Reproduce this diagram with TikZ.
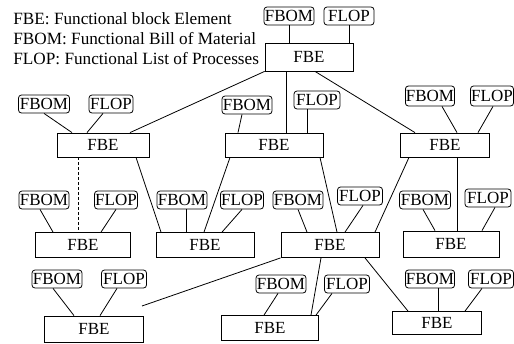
\documentclass[tikz,border=0pt]{standalone}
\usepackage{fontspec}
\setmainfont{Liberation Serif}
\newcommand\myfsz{\fontsize{17}{20.5}\selectfont}
\newcommand\mylegsz{\fontsize{17.2}{20.5}\selectfont}
\begin{document}
\begin{tikzpicture}[x=1pt,y=-1pt,line width=0.8pt,
  fbe/.style={draw, rectangle, minimum height=25pt, inner sep=0pt, font=\myfsz},
  tag/.style={draw, rectangle, rounded corners=3pt, minimum height=18pt, inner sep=0.5pt, font=\myfsz},
  bom/.style={tag, minimum width=50pt},
  lop/.style={tag, minimum width=45pt},
  leg/.style={anchor=base west, inner sep=0pt, font=\mylegsz},
  link/.style={draw, line width=0.8pt}]
\useasboundingbox (0,0) rectangle (514,343);

% legend
\node[leg] (leg1) at (13,24) {FBE: Functional block Element};
\node[leg] (leg2) at (13,44) {FBOM: Functional Bill of Material};
\node[leg] (leg3) at (13,64) {FLOP: Functional List of Processes};

% top
\node[fbe, minimum width=88pt, minimum height=28pt] (T) at (309,57) {FBE};
\node[bom] (Tb) at (289,16) {FBOM};
\node[lop, minimum width=50pt] (Tl) at (349,16) {FLOP};

% row 2
\node[fbe, minimum width=92pt, minimum height=24pt] (L) at (103,145) {FBE};
\node[bom, minimum width=51pt] (Lb) at (44,104) {FBOM};
\node[lop, minimum width=44pt] (Ll) at (111,104) {FLOP};

\node[fbe, minimum width=98pt, minimum height=24pt] (M) at (274,145) {FBE};
\node[bom] (Mb) at (247,105) {FBOM};
\node[lop, minimum width=46pt] (Ml) at (317,100) {FLOP};

\node[fbe, minimum width=89pt, minimum height=24pt] (R) at (445,145) {FBE};
\node[bom, minimum width=48pt, minimum height=20pt] (Rb) at (430,96) {FBOM};
\node[lop, minimum width=43pt, minimum height=20pt] (Rl) at (492,96) {FLOP};

% row 3
\node[fbe, minimum width=95pt] (A) at (83,245) {FBE};
\node[bom] (Ab) at (44,200) {FBOM};
\node[lop, minimum width=43pt] (Al) at (116,200) {FLOP};

\node[fbe, minimum width=98pt] (B) at (205,245) {FBE};
\node[bom] (Bb) at (182,200) {FBOM};
\node[lop, minimum width=43pt] (Bl) at (242,200) {FLOP};

\node[fbe, minimum width=98pt] (C) at (330,245) {FBE};
\node[bom] (Cb) at (298,200) {FBOM};
\node[lop] (Cl) at (360,196) {FLOP};

\node[fbe, minimum width=96pt, minimum height=26pt] (D) at (451,244) {FBE};
\node[bom, minimum width=51pt] (Db) at (425,200) {FBOM};
\node[lop, minimum width=46pt] (Dl) at (488,198) {FLOP};

% row 4
\node[fbe, minimum width=99pt, minimum height=26pt] (E) at (94,329) {FBE};
\node[bom] (Eb) at (57,279) {FBOM};
\node[lop] (El) at (124,279) {FLOP};
\coordinate (Eend) at (142,306);

\node[fbe, minimum width=97pt] (F) at (270,328) {FBE};
\node[bom] (Fb) at (281,284) {FBOM};
\node[lop] (Fl) at (347,284) {FLOP};

\node[fbe, minimum width=89pt, minimum height=23pt] (G) at (437,323) {FBE};
\node[bom, minimum width=49pt] (Gb) at (430,279) {FBOM};
\node[lop] (Gl) at (491,279) {FLOP};

% connectors: top
\draw[link] (Tb.south) -- ([xshift=-20pt]T.north);
\draw[link] (Tl.south) -- ([xshift=40pt]T.north);
\draw[link] (T.south west) -- ([xshift=27pt]L.north);
\draw[link] ([xshift=-23pt]T.south) -- ([xshift=12pt]M.north);
\draw[link] ([xshift=6pt]T.south) -- ([xshift=-30pt]R.north);

% row 2 tags
\draw[link] (Lb.south) -- ([xshift=-31pt]L.north);
\draw[link] ([xshift=-8pt]Ll.south) -- ([xshift=-16pt]L.north);
\draw[link] ([xshift=-5pt]Mb.south) -- ([xshift=-36pt]M.north);
\draw[link] ([xshift=-10pt]Ml.south) -- ([xshift=33pt]M.north);
\draw[link] ([xshift=12pt]Rb.south) -- ([xshift=12pt]R.north);
\draw[link] ([xshift=1pt]Rl.south) -- ([xshift=33pt]R.north);

% row 2 -> row 3
\draw[link, densely dashed] ([xshift=-25pt]L.south) -- ([xshift=-5pt]A.north);
\draw[link] ([xshift=33pt]L.south) -- ([xshift=-44pt]B.north);
\draw[link] ([xshift=-44pt]M.south) -- ([xshift=-1pt]B.north);
\draw[link] ([xshift=46pt]M.south) -- ([xshift=7pt]C.north);
\draw[link] ([xshift=-36pt]R.south) -- ([xshift=45pt]C.north);
\draw[link] ([xshift=12pt]R.south) -- ([xshift=6pt]D.north);

% row 3 tags
\draw[link] ([xshift=-4pt]Ab.south) -- ([xshift=-30pt]A.north);
\draw[link] (Al.south) -- ([xshift=18pt]A.north);
\draw[link] ([xshift=4pt]Bb.south) -- ([xshift=-19pt]B.north);
\draw[link] (Bl.south) -- ([xshift=17pt]B.north);
\draw[link] (Cb.south) -- ([xshift=-23pt]C.north);
\draw[link] ([xshift=3pt]Cl.south) -- ([xshift=15pt]C.north);
\draw[link] ([xshift=-2pt]Db.south) -- ([xshift=-16pt]D.north);
\draw[link] ([xshift=7pt]Dl.south) -- ([xshift=31pt]D.north);

% row 3 -> row 4
\draw[link] (C.south west) -- (Eend);
\draw[link] ([xshift=-9pt]C.south) -- ([xshift=41pt]F.north);
\draw[link] ([xshift=35pt]C.south) -- ([xshift=-29pt]G.north);

% row 4 tags
\draw[link] ([xshift=-4pt]Eb.south) -- ([xshift=-20pt]E.north);
\draw[link] ([xshift=-7pt]El.south) -- ([xshift=6pt]E.north);
\draw[link] ([xshift=-3pt]Fb.south) -- ([xshift=-6pt]F.north);
\draw[link] ([xshift=-15pt]Fl.south) -- ([xshift=46pt]F.north);
\draw[link] ([xshift=8pt]Gb.south) -- ([xshift=1pt]G.north);
\draw[link] ([xshift=-9pt]Gl.south) -- ([xshift=28pt]G.north);
\end{tikzpicture}
\end{document}
